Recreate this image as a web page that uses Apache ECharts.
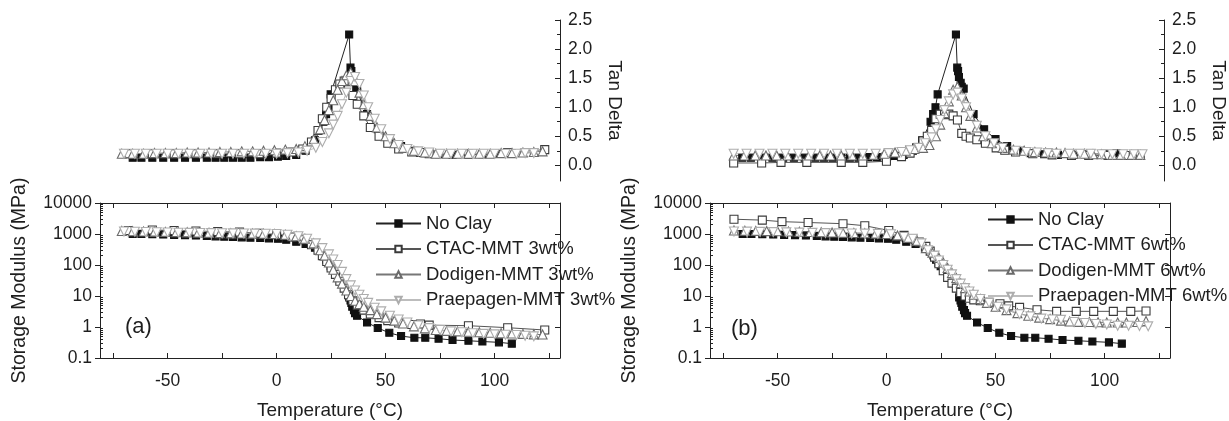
<!DOCTYPE html>
<html>
<head>
<meta charset="utf-8">
<script src="https://cdn.jsdelivr.net/npm/echarts@6/dist/echarts.min.js"></script>
<style>
html,body{margin:0;padding:0;background:#fff;}
#chart{width:1229px;height:421px;}
</style>
</head>
<body>
<div id="chart"></div>
<script>
// ---------- DATA ----------
// No Clay (same neat sample in both panels)
var T_noClay = [-66,-62,-57,-52,-47,-42,-37,-32,-28,-24,-20,-16,-12,-7.5,-3.5,0.6,4.4,9,13.3,17.6,21.5,22.7,23.8,24.8,33.3,33.9,34.3,34.7,35.5,36,36.9,41.5,46.4,51.7,57.1,63.2,68.2,74.3,80.7,88,94.4,102,107.9];
var E_noClay = [1000,1000,990,960,940,920,890,860,840,820,800,780,760,740,720,700,650,560,480,360,205,148,117,92,9,7.2,6,4.5,3.5,2.8,2.3,1.4,0.93,0.65,0.51,0.45,0.45,0.42,0.38,0.36,0.34,0.32,0.29];
var tan_noClay = [0.13,0.13,0.13,0.13,0.13,0.13,0.13,0.13,0.13,0.13,0.13,0.13,0.13,0.14,0.14,0.15,0.16,0.18,0.25,0.43,0.75,0.88,1.0,1.22,2.25,1.68,1.62,1.52,1.42,1.35,1.32,0.88,0.62,0.45,0.33,0.25,0.21,0.19,0.18,0.18,0.19,0.2,0.21];

// (a) CTAC-MMT 3wt%
var T_ctac3 = [-68,-57,-47,-37,-27,-17,-8,0,7,12,16,19,21,23,25,27,29,31,33,35,37,40,43,47,51,56,62,66,70,88,106,123];
var E_ctac3 = [1300,1350,1300,1250,1200,1150,1050,950,800,650,450,300,200,130,80,50,30,18,11,7,5,3.5,2.6,2.0,1.6,1.35,1.2,1.25,1.15,1.1,0.95,0.8];
var tan_ctac3 = [0.2,0.2,0.2,0.2,0.2,0.2,0.2,0.21,0.23,0.28,0.4,0.6,0.8,1.0,1.15,1.3,1.4,1.45,1.3,1.2,1.05,0.85,0.65,0.5,0.38,0.28,0.23,0.22,0.2,0.2,0.22,0.27];

// (a) Dodigen-MMT 3wt%
var T_dod3 = [-71,-66,-61,-56,-51,-46,-41,-36,-31,-26,-21,-16,-11,-6,-1,4,9,13,17,20,22,24,26,28,30,32,34,36,38,40,43,46,50,54,58,63,68,73,78,83,88,93,98,103,108,113,118,122];
var E_dod3 = [1250,1230,1210,1190,1170,1150,1130,1110,1090,1070,1050,1040,1030,1020,1000,950,850,700,500,300,200,120,70,40,25,15,10,7,5.5,4.5,3.5,2.6,2.0,1.6,1.3,1.05,0.9,0.8,0.75,0.72,0.7,0.68,0.65,0.63,0.62,0.6,0.58,0.57];
var tan_dod3 = [0.2,0.2,0.2,0.21,0.21,0.21,0.22,0.22,0.22,0.23,0.23,0.24,0.24,0.25,0.26,0.27,0.28,0.33,0.45,0.62,0.78,0.95,1.12,1.3,1.45,1.55,1.6,1.45,1.25,1.05,0.85,0.65,0.5,0.38,0.3,0.25,0.22,0.2,0.2,0.2,0.2,0.2,0.2,0.21,0.21,0.22,0.23,0.24];

// (a) Praepagen-MMT 3wt%
var T_pra3 = [-70,-65,-60,-55,-50,-45,-40,-35,-30,-25,-20,-15,-10,-5,0,5,10,14,18,21,24,26,28,30,32,34,36,38,40,42,45,48,52,56,60,65,70,75,80,85,90,95,100,105,110,114,118];
var E_pra3 = [1200,1180,1160,1140,1120,1100,1090,1080,1070,1060,1050,1040,1030,1020,1000,950,850,700,500,350,220,150,100,60,35,22,15,11,8,6,4.2,3.2,2.3,1.75,1.4,1.12,0.92,0.8,0.72,0.68,0.63,0.6,0.58,0.56,0.55,0.52,0.5];
var tan_pra3 = [0.2,0.2,0.2,0.2,0.2,0.2,0.2,0.2,0.2,0.2,0.2,0.2,0.2,0.2,0.2,0.21,0.22,0.25,0.3,0.4,0.55,0.7,0.85,1.05,1.25,1.45,1.52,1.4,1.2,1.0,0.8,0.62,0.45,0.35,0.28,0.24,0.22,0.2,0.2,0.2,0.2,0.2,0.2,0.2,0.2,0.21,0.21];

// (b) CTAC-MMT 6wt%
var T_ctac6 = [-70,-57,-48,-36,-20,-10,1,8,12,15,18,20,22,24,26,28,30,32,34,36,38,40,43,47,52,56,61,69,78,87,95,104,112,119];
var E_ctac6 = [3000,2800,2500,2350,2150,1850,1300,900,700,550,400,280,180,110,65,40,26,18,13,10,8.5,7.5,7,6.3,5.6,4.8,4.3,3.6,3.2,3.2,3.2,3.2,3.2,3.3];
var tan_ctac6 = [0.04,0.04,0.05,0.05,0.05,0.05,0.07,0.15,0.21,0.3,0.42,0.5,0.6,0.8,0.88,0.87,0.88,0.85,0.78,0.55,0.5,0.47,0.44,0.38,0.3,0.26,0.23,0.2,0.18,0.17,0.17,0.17,0.17,0.18];

// (b) Dodigen-MMT 6wt%
var T_dod6 = [-70,-65,-60,-55,-50,-45,-40,-35,-30,-25,-20,-15,-10,-5,0,5,10,14,18,21,24,26,28,30,32,34,36,38,40,43,46,50,55,60,65,70,75,80,84,88,93,97,101,106,110,115,119];
var E_dod6 = [1300,1280,1260,1240,1220,1200,1180,1160,1140,1120,1100,1080,1060,1030,1000,900,750,600,350,250,170,120,80,55,38,26,18,14,11,8,6,4.5,3.5,2.8,2.3,2.0,1.8,1.6,1.5,1.46,1.45,1.42,1.4,1.4,1.4,1.45,1.55];
var tan_dod6 = [0.17,0.17,0.17,0.17,0.17,0.17,0.17,0.17,0.17,0.17,0.17,0.17,0.17,0.18,0.2,0.22,0.25,0.28,0.3,0.35,0.5,0.7,0.9,1.1,1.3,1.35,1.2,1.0,0.85,0.65,0.5,0.38,0.3,0.27,0.25,0.23,0.22,0.22,0.21,0.2,0.2,0.19,0.19,0.18,0.18,0.18,0.18];

// (b) Praepagen-MMT 6wt%
var T_pra6 = [-70,-64,-58,-52,-46,-40,-34,-28,-22,-16,-10,-4,2,8,12,16,19,22,24,26,28,30,32,34,36,38,40,43,47,51,55,61,66,71,76,80,86,91,96,101,106,111,116,120];
var E_pra6 = [1200,1190,1170,1150,1130,1110,1090,1070,1050,1040,1030,1010,980,800,700,500,300,200,140,100,70,50,35,25,18,14,11,8,6,4.5,3.7,2.6,2.2,1.86,1.75,1.7,1.45,1.35,1.25,1.2,1.1,1.1,1.08,1.05];
var tan_pra6 = [0.2,0.2,0.2,0.2,0.2,0.2,0.2,0.2,0.2,0.2,0.2,0.2,0.21,0.23,0.26,0.3,0.38,0.48,0.62,0.78,0.95,1.1,1.22,1.25,1.15,1.0,0.87,0.68,0.5,0.38,0.3,0.25,0.23,0.22,0.21,0.2,0.2,0.2,0.2,0.19,0.19,0.19,0.19,0.19];

// tick labels
var xLabels = [-50, 0, 50, 100];
var xTicks = [-75, -50, -25, 0, 25, 50, 75, 100, 125];
var tanLabels = [0, 0.5, 1.0, 1.5, 2.0, 2.5];
var tanMinor = [0.25, 0.75, 1.25, 1.75, 2.25];
var logMinor = [];
[0.1, 1, 10, 100, 1000].forEach(function (d) { for (var k = 2; k <= 9; k++) logMinor.push(+(d * k).toPrecision(3)); });

var namesA = ['No Clay', 'CTAC-MMT 3wt%', 'Dodigen-MMT 3wt%', 'Praepagen-MMT 3wt%'];
var namesB = ['No Clay', 'CTAC-MMT 6wt%', 'Dodigen-MMT 6wt%', 'Praepagen-MMT 6wt%'];

// ---------- STYLE ----------
var FONT = '"Liberation Sans", Arial, sans-serif';
var TXT = '#1e1e1e';
var styles = [
  { symbol: 'rect', size: 7, rot: 0, fill: '#111', border: '#111', line: '#222' },
  { symbol: 'rect', size: 8, rot: 0, fill: '#fff', border: '#3a3a3a', line: '#555' },
  { symbol: 'triangle', size: 9, rot: 0, fill: '#fff', border: '#6a6a6a', line: '#777' },
  { symbol: 'triangle', size: 9, rot: 180, fill: '#fff', border: '#adadad', line: '#bdbdbd' }
];

function zip(xs, ys) { return xs.map(function (x, i) { return [x, ys[i]]; }); }
function mk(name, st, xIdx, yIdx, data) {
  var s = styles[st];
  return {
    name: name, type: 'line', xAxisIndex: xIdx, yAxisIndex: yIdx, data: data,
    symbol: s.symbol, symbolSize: s.size, symbolRotate: s.rot, showAllSymbol: true,
    itemStyle: { color: s.fill, borderColor: s.border, borderWidth: 1.1 },
    lineStyle: { color: s.line, width: 1 },
    emphasis: { disabled: true }, animation: false
  };
}

var GL = [100, 710], GW = 460;
var grids = [
  { left: GL[0], top: 20, width: GW, height: 161 },
  { left: GL[0], top: 203, width: GW, height: 160 },
  { left: GL[1], top: 20, width: GW, height: 161 },
  { left: GL[1], top: 203, width: GW, height: 160 }
];

function axLine() { return { show: true, onZero: false, lineStyle: { color: '#222', width: 1 } }; }
var noLine = { show: false, onZero: false };
function xHidden(g) { return { type: 'value', gridIndex: g, min: -81, max: 130, show: false, axisLine: { onZero: false } }; }
function xMain(g) {
  return {
    type: 'value', gridIndex: g, min: -81, max: 130, position: 'bottom',
    axisLine: axLine(), splitLine: { show: false },
    axisTick: { show: true, inside: true, length: 5, customValues: xTicks, lineStyle: { color: '#222' } },
    axisLabel: { customValues: xLabels, fontSize: 17.5, color: TXT, fontFamily: FONT, margin: 14 },
    name: 'Temperature (°C)', nameLocation: 'middle', nameGap: 43,
    nameTextStyle: { fontSize: 19, color: TXT, fontFamily: FONT }
  };
}
function xTop(g) {
  return {
    type: 'value', gridIndex: g, min: -81, max: 130, position: 'top',
    axisLine: axLine(), splitLine: { show: false },
    axisTick: { show: true, inside: true, length: 5, customValues: xTicks, lineStyle: { color: '#222' } },
    axisLabel: { show: false }
  };
}
function tanMain(g) {
  return {
    type: 'value', gridIndex: g, min: -0.27, max: 2.5, position: 'right',
    axisLine: axLine(), splitLine: { show: false },
    axisTick: { show: true, inside: true, length: 5, customValues: tanLabels, lineStyle: { color: '#222' } },
    axisLabel: { customValues: tanLabels, fontSize: 17.5, color: TXT, fontFamily: FONT, margin: 8,
      formatter: function (v) { return (+v).toFixed(1); } },
    name: 'Tan Delta', nameLocation: 'middle', nameGap: 45, nameRotate: -90,
    nameTextStyle: { fontSize: 19, color: TXT, fontFamily: FONT }
  };
}
function tanMinorAx(g) {
  return {
    type: 'value', gridIndex: g, min: -0.27, max: 2.5, position: 'right',
    axisLine: noLine, splitLine: { show: false },
    axisTick: { show: true, inside: true, length: 3, customValues: tanMinor, lineStyle: { color: '#222' } },
    axisLabel: { show: false }
  };
}
function logMain(g) {
  return {
    type: 'log', logBase: 10, gridIndex: g, min: 0.1, max: 10000, position: 'left',
    axisLine: axLine(), splitLine: { show: false },
    axisTick: { show: true, inside: false, length: 5, lineStyle: { color: '#222' } },
    axisLabel: { fontSize: 17.5, color: TXT, fontFamily: FONT, margin: 8,
      formatter: function (v) { return String(parseFloat((+v).toPrecision(6))); } },
    name: 'Storage Modulus (MPa)', nameLocation: 'middle', nameGap: 70,
    nameTextStyle: { fontSize: 19.5, color: TXT, fontFamily: FONT }
  };
}
function logMinorAx(g) {
  return {
    type: 'log', logBase: 10, gridIndex: g, min: 0.1, max: 10000, position: 'left',
    axisLine: noLine, splitLine: { show: false },
    axisTick: { show: true, inside: true, length: 3, customValues: logMinor, lineStyle: { color: '#222' } },
    axisLabel: { show: false }
  };
}
function logRight(g) {
  return {
    type: 'log', logBase: 10, gridIndex: g, min: 0.1, max: 10000, position: 'right',
    axisLine: axLine(), splitLine: { show: false },
    axisTick: { show: true, inside: true, length: 5, lineStyle: { color: '#222' } },
    axisLabel: { show: false }
  };
}

var xAxes = [xHidden(0), xMain(1), xTop(1), xHidden(2), xMain(3), xTop(3)];
var yAxes = [tanMain(0), tanMinorAx(0), logMain(1), logMinorAx(1), logRight(1),
             tanMain(2), tanMinorAx(2), logMain(3), logMinorAx(3), logRight(3)];

var series = [
  // panel (a) tan delta
  mk(namesA[0], 0, 0, 0, zip(T_noClay, tan_noClay)),
  mk(namesA[1], 1, 0, 0, zip(T_ctac3, tan_ctac3)),
  mk(namesA[2], 2, 0, 0, zip(T_dod3, tan_dod3)),
  mk(namesA[3], 3, 0, 0, zip(T_pra3, tan_pra3)),
  // panel (a) storage modulus
  mk(namesA[0], 0, 1, 2, zip(T_noClay, E_noClay)),
  mk(namesA[1], 1, 1, 2, zip(T_ctac3, E_ctac3)),
  mk(namesA[2], 2, 1, 2, zip(T_dod3, E_dod3)),
  mk(namesA[3], 3, 1, 2, zip(T_pra3, E_pra3)),
  // panel (b) tan delta
  mk(namesB[0], 0, 3, 5, zip(T_noClay, tan_noClay)),
  mk(namesB[1], 1, 3, 5, zip(T_ctac6, tan_ctac6)),
  mk(namesB[2], 2, 3, 5, zip(T_dod6, tan_dod6)),
  mk(namesB[3], 3, 3, 5, zip(T_pra6, tan_pra6)),
  // panel (b) storage modulus
  mk(namesB[0], 0, 4, 7, zip(T_noClay, E_noClay)),
  mk(namesB[1], 1, 4, 7, zip(T_ctac6, E_ctac6)),
  mk(namesB[2], 2, 4, 7, zip(T_dod6, E_dod6)),
  mk(namesB[3], 3, 4, 7, zip(T_pra6, E_pra6))
];

function legend(names, left, top) {
  return {
    data: names, orient: 'vertical', left: left, top: top,
    itemWidth: 45, itemHeight: 8, itemGap: 6.5, selectedMode: false,
    textStyle: { fontSize: 18.5, color: TXT, fontFamily: FONT, padding: 0 }
  };
}

var chart = echarts.init(document.getElementById('chart'), null, { renderer: 'canvas' });
chart.setOption({
  backgroundColor: '#fff',
  animation: false,
  grid: grids,
  xAxis: xAxes,
  yAxis: yAxes,
  series: series,
  legend: [legend(namesA, 370, 209), legend(namesB, 982, 205)],
  graphic: [
    { type: 'text', left: 125, top: 316, style: { text: '(a)', fontSize: 22, fill: TXT, fontFamily: FONT } },
    { type: 'text', left: 731, top: 318, style: { text: '(b)', fontSize: 22, fill: TXT, fontFamily: FONT } }
  ]
});
</script>
</body>
</html>
